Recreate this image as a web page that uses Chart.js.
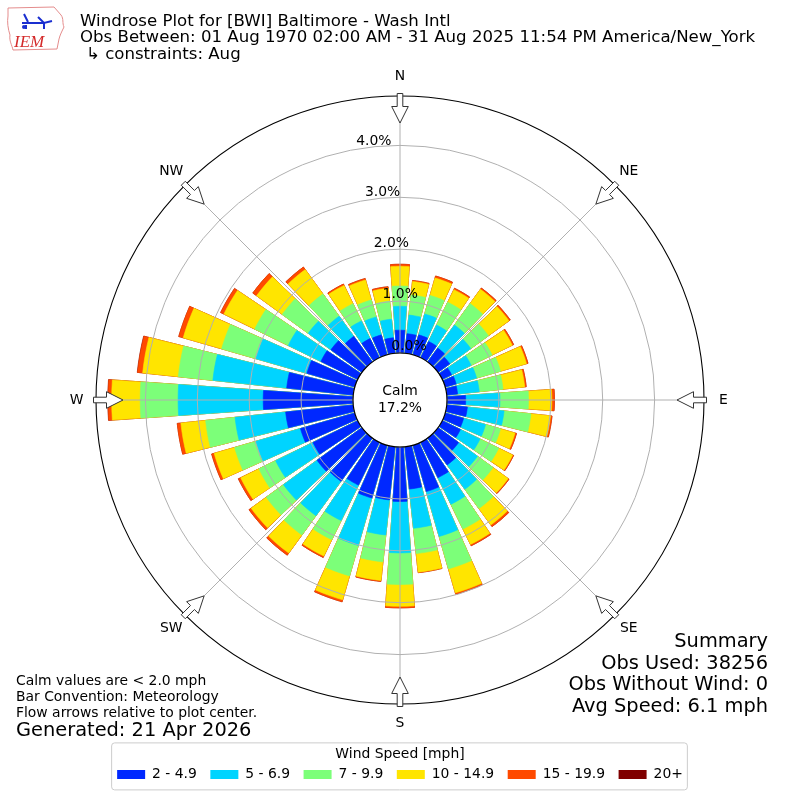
<!DOCTYPE html>
<html>
<head>
<meta charset="utf-8">
<script src="https://cdn.jsdelivr.net/npm/chart.js@4.4.1/dist/chart.umd.min.js"></script>
<style>
html,body{margin:0;padding:0;background:#fff;}
#wrap{position:relative;width:800px;height:800px;overflow:hidden;font-family:'DejaVu Sans',sans-serif;color:#000;}
#c{position:absolute;left:0;top:0;}
.t{position:absolute;white-space:nowrap;line-height:1;}
#logo{position:absolute;left:4px;top:4px;}
</style>
</head>
<body>
<div id="wrap">
<canvas id="c" width="800" height="800"></canvas>
<svg id="logo" width="64" height="50" viewBox="0 0 64 50">
  <path d="M4,4 L50,3 C52,6 55,8 57,11 C60,15 58,19 60,23 C58,27 56,31 55,35 L53,45 L9,46 C8,41 5,37 6,31 C4,25 3,18 4,12 Z" fill="none" stroke="#e48c8c" stroke-width="1"/>
  <path d="M20,10 L24,18 M18,19 L24,19 L40,19 M34,13 L40,19 L48,17 M40,19 L40,25 M22,21 L22,25" fill="none" stroke="#1a2fd0" stroke-width="2"/>
  <circle cx="20" cy="23" r="2" fill="#1a2fd0"/>
  <text x="10" y="43" font-family="'Liberation Serif',serif" font-style="italic" font-size="17" fill="#d42a2a">IEM</text>
</svg>
<div class="t" style="left:80px;top:12.7px;font-size:16.6px;">Windrose Plot for [BWI] Baltimore - Wash Intl</div>
<div class="t" style="left:80px;top:28.7px;font-size:16.6px;">Obs Between: 01 Aug 1970 02:00 AM - 31 Aug 2025 11:54 PM America/New_York</div>
<div class="t" style="left:86px;top:46.3px;font-size:16.6px;">↳ constraints: Aug</div>
<div class="t" style="left:16px;top:674.3px;font-size:13.9px;">Calm values are &lt; 2.0 mph</div>
<div class="t" style="left:16px;top:690.3px;font-size:13.9px;">Bar Convention: Meteorology</div>
<div class="t" style="left:16px;top:706.3px;font-size:13.9px;">Flow arrows relative to plot center.</div>
<div class="t" style="left:16px;top:719.7px;font-size:19.4px;">Generated: 21 Apr 2026</div>
<div class="t" style="right:32px;top:631.4px;font-size:19.4px;text-align:right;">Summary</div>
<div class="t" style="right:32px;top:653px;font-size:19.4px;text-align:right;">Obs Used: 38256</div>
<div class="t" style="right:32px;top:673.7px;font-size:19.4px;text-align:right;">Obs Without Wind: 0</div>
<div class="t" style="right:32px;top:695.7px;font-size:19.4px;text-align:right;">Avg Speed: 6.1 mph</div>
</div>
<script>
// ---------------- data ----------------
const DIRECTIONS = [0,10,20,30,40,50,60,70,80,90,100,110,120,130,140,150,160,170,
                    180,190,200,210,220,230,240,250,260,270,280,290,300,310,320,330,340,350];
const BIN_LABELS = ['2 - 4.9','5 - 6.9','7 - 9.9','10 - 14.9','15 - 19.9','20+'];
// percent of observations per direction and speed bin
const BIN_2_5   = [0.44,0.38,0.40,0.35,0.33,0.28,0.20,0.22,0.21,0.36,0.40,0.37,0.39,0.49,0.64,0.76,0.93,0.82,
                   1.05,1.03,1.06,0.92,1.03,1.07,0.96,1.09,1.31,1.73,1.29,0.96,0.79,0.74,0.61,0.41,0.40,0.30];
const BIN_5_7   = [0.46,0.36,0.42,0.35,0.55,0.50,0.42,0.41,0.42,0.66,0.71,0.44,0.42,0.45,0.58,0.57,0.90,0.76,
                   0.99,0.68,0.95,0.76,0.82,0.80,0.80,0.89,0.98,1.64,1.43,1.02,0.70,0.54,0.48,0.38,0.36,0.36];
const BIN_7_10  = [0.39,0.39,0.37,0.49,0.51,0.42,0.45,0.48,0.46,0.55,0.52,0.30,0.40,0.37,0.46,0.53,0.65,0.49,
                   0.61,0.52,0.61,0.41,0.46,0.41,0.36,0.43,0.57,0.73,0.67,0.69,0.72,0.62,0.53,0.37,0.34,0.35];
const BIN_10_15 = [0.38,0.26,0.35,0.27,0.34,0.49,0.43,0.52,0.42,0.45,0.38,0.29,0.30,0.36,0.39,0.33,0.48,0.36,
                   0.42,0.36,0.48,0.35,0.43,0.36,0.39,0.41,0.48,0.55,0.69,0.77,0.66,0.61,0.58,0.39,0.40,0.25];
const BIN_15_20 = [0.04,0.02,0.04,0.03,0.03,0.03,0.03,0.03,0.03,0.05,0.03,0.03,0.02,0.02,0.04,0.03,0.03,0.01,
                   0.03,0.02,0.04,0.03,0.05,0.05,0.05,0.05,0.07,0.07,0.10,0.09,0.07,0.09,0.06,0.03,0.03,0.03];
const BIN_20    = [0,0,0,0,0,0,0,0,0,0,0,0,0,0,0,0,0,0,
                   0,0,0,0,0,0,0,0,0,0.005,0.005,0,0,0,0,0,0,0];
const TICK_VALUES = [0,1,2,3,4];
const COMPASS = ['N','NE','E','SE','S','SW','W','NW'];
const CALM_PCT = 17.2;

// ---------------- styles ----------------
const BIN_COLORS = ['#0028ff','#00d4ff','#7cff79','#ffe500','#ff4a00','#800000'];
const BAR_DEG = 8, GAP_DEG = 2;
const R_MIN = -0.906, R_MAX = 4.952;
const FONT = "'DejaVu Sans', sans-serif";
Chart.defaults.font.family = FONT;
Chart.defaults.color = '#000';

const BINS = [BIN_2_5, BIN_5_7, BIN_7_10, BIN_10_15, BIN_15_20, BIN_20];
// cumulative (stacked) values; lower bins drawn on top
const cumulative = BINS.map((_, k) => DIRECTIONS.map((_, i) => {
  let s = 0; for (let j = 0; j <= k; j++) s += BINS[j][i]; return s;
}));
const labels = DIRECTIONS.flatMap(d => [d + '°', '']);
const colorFor = k => (ctx => ctx.dataIndex % 2 ? 'rgba(0,0,0,0)' : BIN_COLORS[k]);
const datasets = BINS.map((_, k) => ({
  label: BIN_LABELS[k],
  data: cumulative[k].flatMap(v => [v, 0]),
  backgroundColor: colorFor(k),
  borderColor: colorFor(k),
  borderWidth: 0.6,
  angle: ctx => ctx.dataIndex % 2 ? GAP_DEG : BAR_DEG
}));

const decor = {
  id: 'decor',
  afterDatasetsDraw(chart) {
    const s = chart.scales.r, ctx = chart.ctx;
    const r0 = s.getDistanceFromCenterForValue(0);
    ctx.save();
    ctx.beginPath(); ctx.arc(s.xCenter, s.yCenter, r0, 0, Math.PI * 2);
    ctx.fillStyle = '#fff'; ctx.fill();
    ctx.restore();
  },
  afterDraw(chart) {
    const s = chart.scales.r, ctx = chart.ctx;
    const cx = s.xCenter, cy = s.yCenter, R = s.drawingArea;
    const r0 = s.getDistanceFromCenterForValue(0);
    ctx.save();
    // spokes
    ctx.strokeStyle = '#b0b0b0'; ctx.lineWidth = 1;
    for (let i = 0; i < 8; i++) {
      const a = i * Math.PI / 4;
      ctx.beginPath();
      ctx.moveTo(cx + r0 * Math.sin(a), cy - r0 * Math.cos(a));
      ctx.lineTo(cx + R * Math.sin(a), cy - R * Math.cos(a));
      ctx.stroke();
    }
    // calm circle border + text
    ctx.beginPath(); ctx.arc(cx, cy, r0, 0, Math.PI * 2);
    ctx.strokeStyle = '#000'; ctx.lineWidth = 1.1; ctx.stroke();
    ctx.fillStyle = '#000'; ctx.textAlign = 'center'; ctx.textBaseline = 'middle';
    ctx.font = "13.9px " + FONT;
    ctx.fillText('Calm', cx, cy - 8.3);
    ctx.fillText(CALM_PCT.toFixed(1) + '%', cx, cy + 8);
    // tick labels
    TICK_VALUES.forEach(v => {
      const r = s.getDistanceFromCenterForValue(v);
      ctx.fillText(v.toFixed(1) + '%', cx + 16.9 - 0.169 * r, cy - 0.986 * r - 7.7);
    });
    // flow arrows
    const pt = (a, r, t) => [cx + r * Math.sin(a) + t * Math.cos(a), cy - r * Math.cos(a) + t * Math.sin(a)];
    COMPASS.forEach((name, i) => {
      const a = i * Math.PI / 4;
      const shape = [[R + 2.5, -2.8], [R - 10.5, -2.8], [R - 10.5, -8.3], [R - 27, 0],
                     [R - 10.5, 8.3], [R - 10.5, 2.8], [R + 2.5, 2.8]];
      ctx.beginPath();
      shape.forEach((p, j) => { const q = pt(a, p[0], p[1]); j ? ctx.lineTo(q[0], q[1]) : ctx.moveTo(q[0], q[1]); });
      ctx.closePath();
      ctx.fillStyle = '#fff'; ctx.fill();
      ctx.strokeStyle = '#333'; ctx.lineWidth = 1; ctx.stroke();
      const lp = pt(a, R + 19.5, 0);
      ctx.fillStyle = '#000';
      ctx.fillText(name, lp[0], lp[1]);
    });
    // legend frame
    const lg = chart.legend;
    if (lg && lg.legendHitBoxes && lg.legendHitBoxes.length) {
      const hb = lg.legendHitBoxes;
      const left = hb[0].left - 6, right = hb[hb.length - 1].left + hb[hb.length - 1].width + 4;
      const top = hb[0].top + hb[0].height / 2 - 32, bottom = hb[0].top + hb[0].height / 2 + 15;
      ctx.beginPath();
      ctx.roundRect(left + 0.5, top + 0.5, right - left, bottom - top, 3);
      ctx.strokeStyle = '#cccccc'; ctx.lineWidth = 1; ctx.stroke();
    }
    ctx.restore();
  }
};

new Chart(document.getElementById('c'), {
  type: 'polarArea',
  data: { labels, datasets },
  plugins: [decor],
  options: {
    responsive: false,
    animation: false,
    events: [],
    layout: { padding: { top: 96, bottom: 8.65, left: 20, right: 20 } },
    scales: {
      r: {
        min: R_MIN, max: R_MAX,
        startAngle: -BAR_DEG / 2,
        ticks: { display: false },
        afterBuildTicks: sc => { sc.ticks = TICK_VALUES.concat([R_MAX]).map(v => ({ value: v })); },
        grid: {
          z: 1, circular: true,
          color: c => (c.tick && c.tick.value === R_MAX) ? '#000' : '#b0b0b0',
          lineWidth: c => (c.tick && c.tick.value === R_MAX) ? 1.1 : 1
        },
        angleLines: { display: false },
        pointLabels: { display: false }
      }
    },
    plugins: {
      tooltip: { enabled: false },
      legend: {
        position: 'bottom',
        onClick: () => {},
        title: { display: true, text: 'Wind Speed [mph]', color: '#000',
                 font: { family: FONT, size: 13.9, lineHeight: 0.5 }, padding: { top: 42, bottom: 0 } },
        labels: {
          boxWidth: 28, boxHeight: 9, padding: 13.5, color: '#000',
          font: { family: FONT, size: 13.9 },
          generateLabels: chart => chart.data.datasets.map((ds, i) => ({
            text: ds.label, fillStyle: BIN_COLORS[i], strokeStyle: BIN_COLORS[i],
            lineWidth: 0, hidden: false, datasetIndex: i, fontColor: '#000'
          }))
        }
      }
    }
  }
});
</script>
</body>
</html>
